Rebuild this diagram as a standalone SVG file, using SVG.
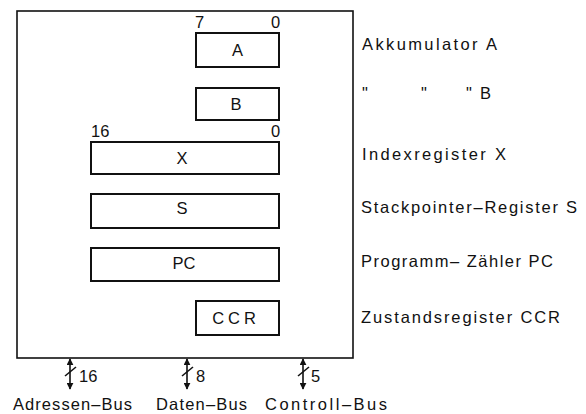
<svg xmlns="http://www.w3.org/2000/svg" width="586" height="414" viewBox="0 0 586 414">
<style>
text{font-family:"Liberation Sans",Arial,sans-serif;fill:#111;font-size:16.5px}
.reg{fill:none;stroke:#111;stroke-width:2}
.c{text-anchor:middle}
.bus{stroke:#111;stroke-width:1.6;fill:none}
</style>
<defs>
<marker id="ah" viewBox="0 0 10 10" refX="9" refY="5" markerWidth="7" markerHeight="7" orient="auto-start-reverse" markerUnits="userSpaceOnUse">
<path d="M0,0 L10,5 L0,10 z" fill="#111"/>
</marker>
</defs>
<rect id="cpu" x="17" y="11" width="336" height="347" fill="none" stroke="#111" stroke-width="1.6"/>
<g id="regA"><rect class="reg" x="196" y="33" width="83" height="34"/><text class="c" x="237.5" y="56">A</text><text x="195" y="28">7</text><text x="271" y="28">0</text></g>
<g id="regB"><rect class="reg" x="196" y="88" width="83" height="32"/><text class="c" x="236" y="110">B</text></g>
<g id="regX"><rect class="reg" x="91" y="142" width="188" height="32"/><text class="c" x="182" y="164">X</text><text x="91" y="137">16</text><text x="271" y="137">0</text></g>
<g id="regS"><rect class="reg" x="91" y="194" width="188" height="34"/><text class="c" x="182" y="214">S</text></g>
<g id="regPC"><rect class="reg" x="91" y="248" width="188" height="33"/><text class="c" x="184" y="269">PC</text></g>
<g id="regCCR"><rect class="reg" x="196" y="301" width="83" height="34"/><text class="c" x="236" y="324" letter-spacing="4">CCR</text></g>
<g id="labels">
<text x="362" y="50" textLength="135">Akkumulator A</text>
<text x="362" y="99">"</text><text x="421" y="99">"</text><text x="466" y="99">"</text><text x="480" y="99">B</text>
<text x="362" y="160" textLength="144">Indexregister X</text>
<text x="361" y="213" textLength="216">Stackpointer–Register S</text>
<text x="361" y="267" textLength="192">Programm– Zähler PC</text>
<text x="361" y="323" textLength="199">Zustandsregister CCR</text>
</g>
<g id="connectors">
<line class="bus" x1="70" y1="359" x2="70" y2="389" marker-start="url(#ah)" marker-end="url(#ah)"/>
<line class="bus" x1="65" y1="376" x2="76" y2="367"/>
<line class="bus" x1="187" y1="359" x2="187" y2="389" marker-start="url(#ah)" marker-end="url(#ah)"/>
<line class="bus" x1="182" y1="376" x2="193" y2="367"/>
<line class="bus" x1="303" y1="359" x2="303" y2="389" marker-start="url(#ah)" marker-end="url(#ah)"/>
<line class="bus" x1="298" y1="376" x2="309" y2="367"/>
</g>
<g id="buslabels">
<text x="79" y="382">16</text>
<text x="196" y="382">8</text>
<text x="311" y="382">5</text>
<text x="13" y="410" textLength="119">Adressen–Bus</text>
<text x="156" y="410" textLength="91">Daten–Bus</text>
<text x="265" y="410" textLength="122">Controll–Bus</text>
</g>
</svg>
